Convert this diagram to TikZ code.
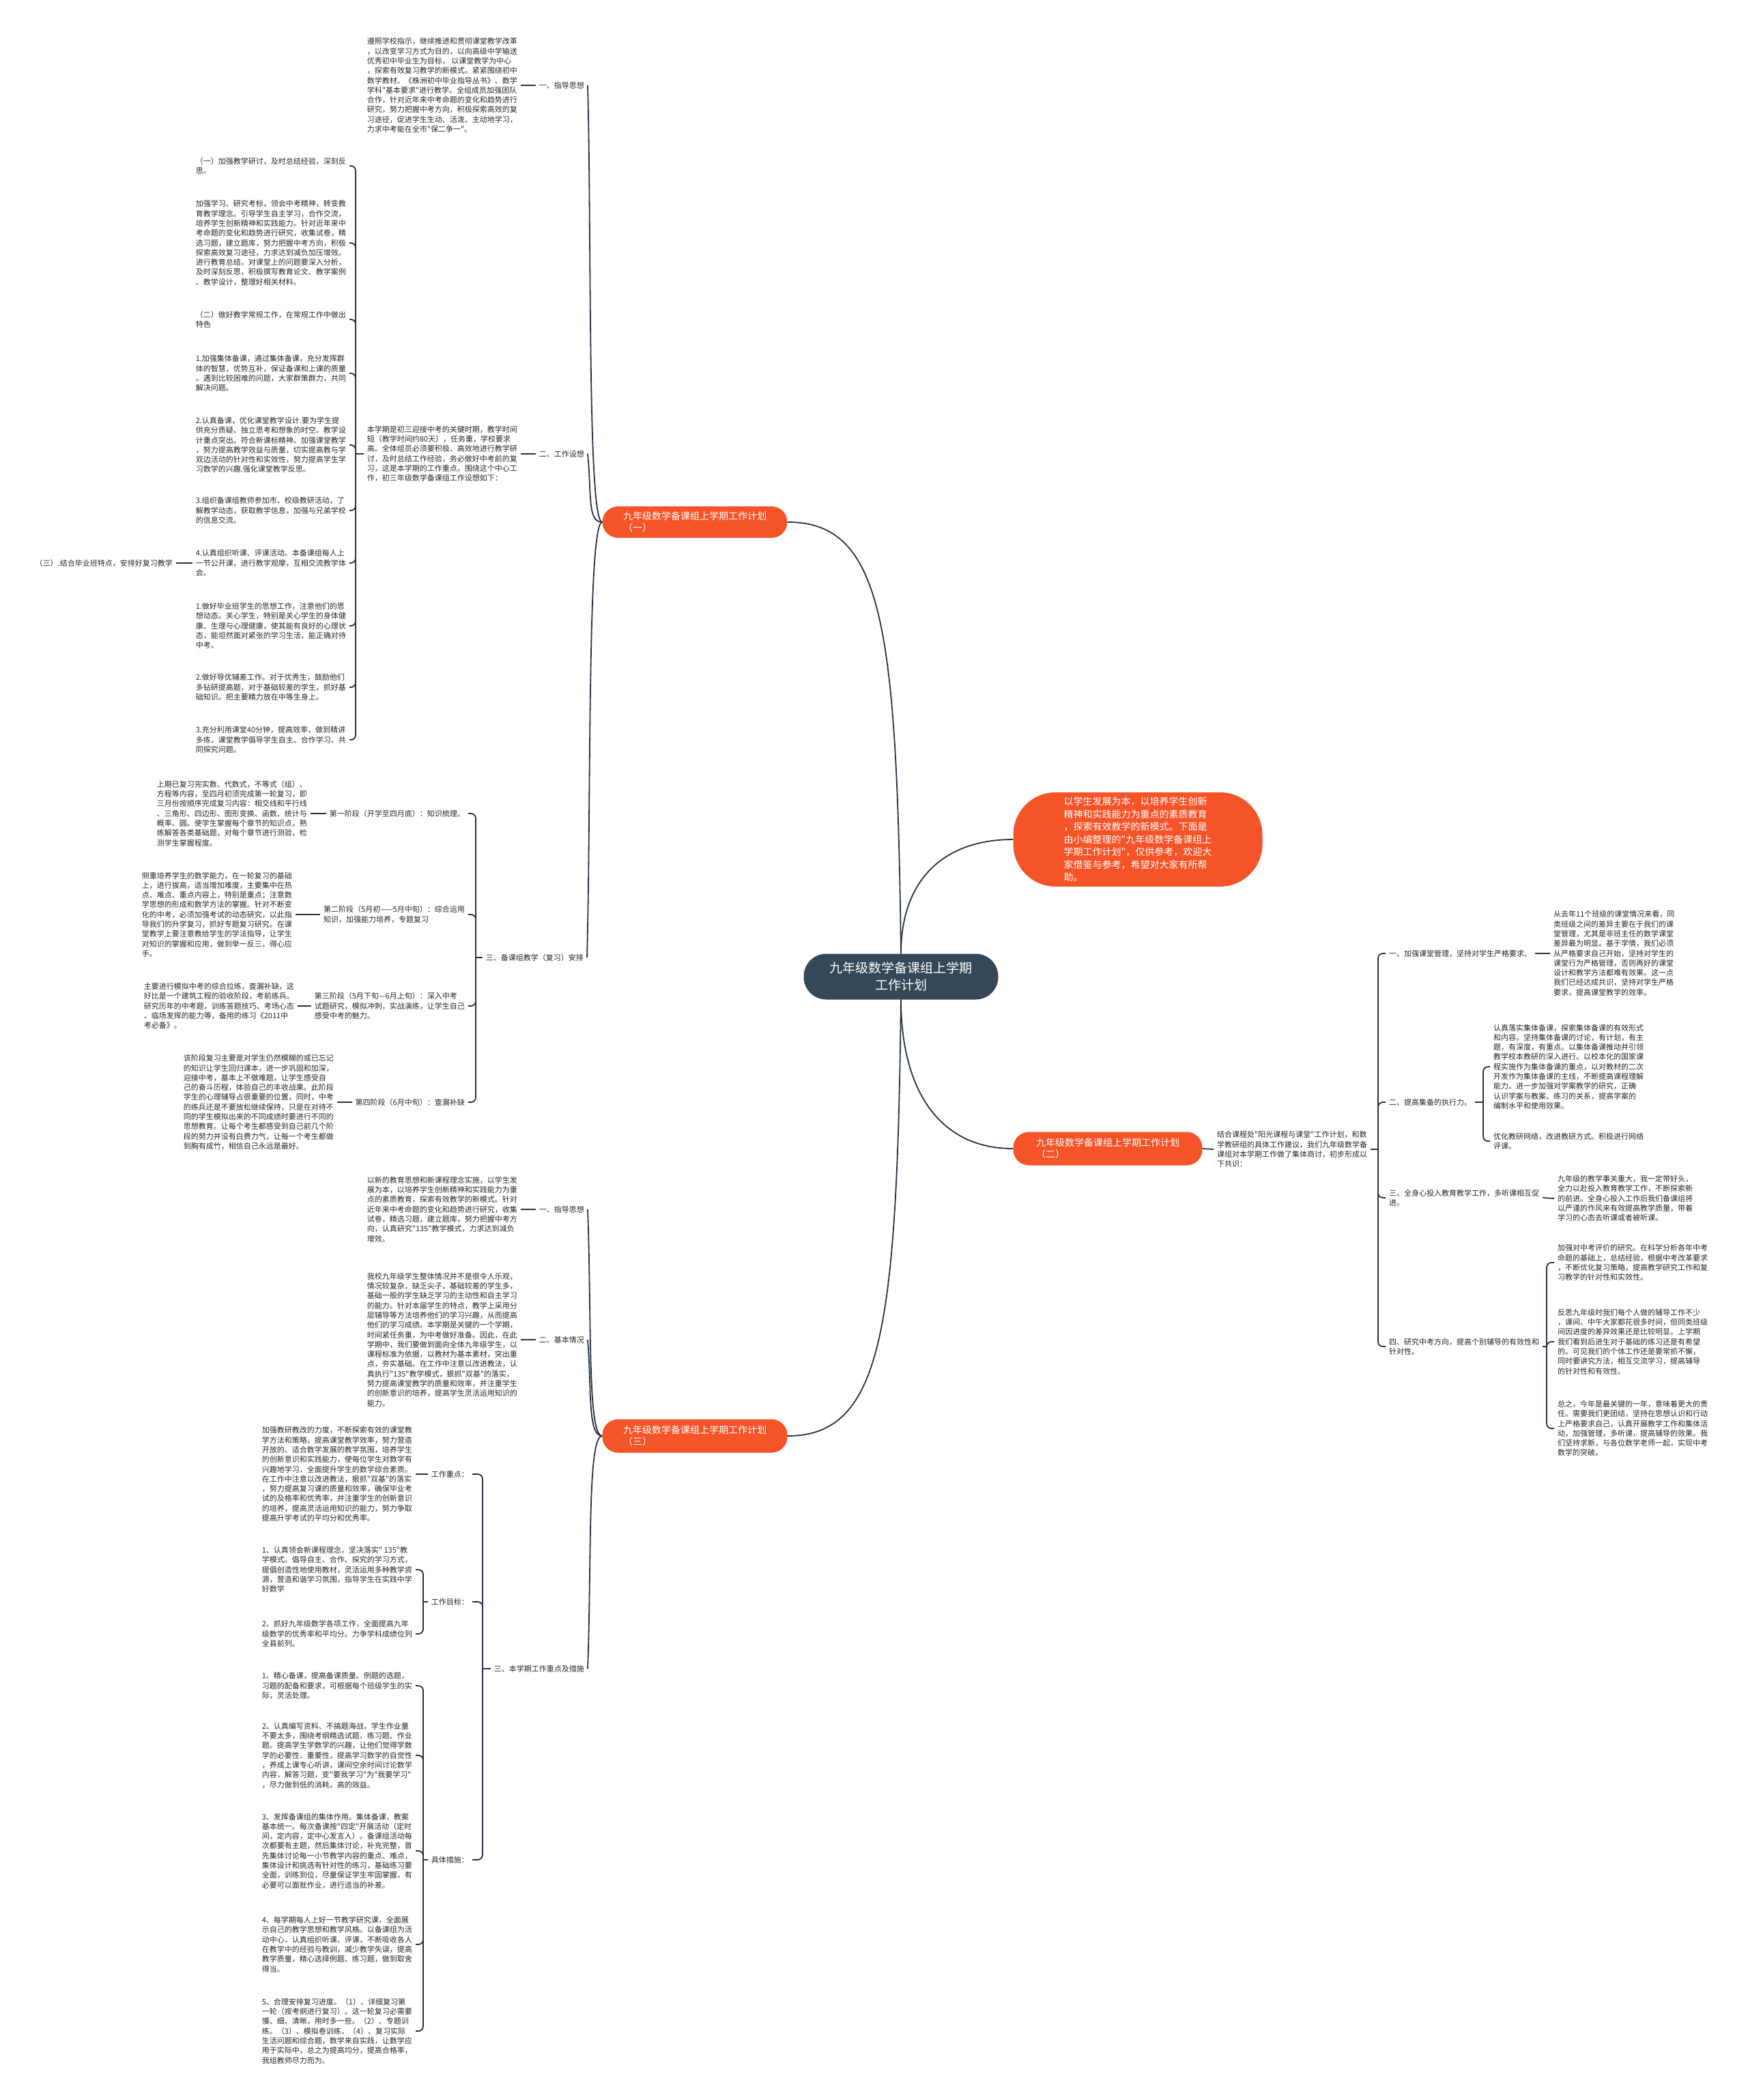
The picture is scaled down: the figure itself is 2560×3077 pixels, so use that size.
\documentclass[tikz,border=0pt]{standalone}
\usepackage{fontspec}
\newfontfamily\cjkfont{Noto Sans CJK SC}
\definecolor{linkc}{RGB}{38,50,66}
\definecolor{rootc}{RGB}{52,72,90}
\definecolor{redc}{RGB}{245,83,40}
\definecolor{textc}{RGB}{40,40,40}
\tikzset{
  link/.style={draw=linkc, line width=1.8pt},
  brace/.style={link, rounded corners=7pt},
  txt/.style={font=\cjkfont\fontsize{11}{14.3}\selectfont, text=textc, align=left, inner xsep=5pt, inner ysep=0pt},
  roottopic/.style={fill=rootc, text=white, rounded corners=33pt, minimum width=285pt, minimum height=67pt, align=center, font=\cjkfont\fontsize{19}{25}\selectfont},
  maintopic/.style={fill=redc, text=white, rounded corners=23pt, minimum width=271pt, minimum height=46pt, align=left, font=\cjkfont\fontsize{14}{17}\selectfont},
}
\begin{document}
\begin{tikzpicture}[x=1pt, y=-1pt]
\fill[white] (0,0) rectangle (2560,3077);
\useasboundingbox (0,0) rectangle (2560,3077);

% centre and main topics
\node[roottopic] (root) at (1320,1431) {九年级数学备课组上学期\\工作计划};
\node[maintopic] (b1) at (1018,765) {九年级数学备课组上学期工作计划\\（一）};
\node[maintopic, minimum width=365pt, minimum height=138pt, rounded corners=62pt, font=\cjkfont\fontsize{14}{18.5}\selectfont] (b0) at (1667,1230)
  {以学生发展为本，以培养学生创新\\精神和实践能力为重点的素质教育\\，探索有效教学的新模式。下面是\\由小编整理的"九年级数学备课组上\\学期工作计划"，仅供参考，欢迎大\\家借鉴与参考，希望对大家有所帮\\助。};
\node[maintopic, minimum width=277pt, minimum height=49pt] (b2) at (1623,1683) {九年级数学备课组上学期工作计划\\（二）};
\node[maintopic, minimum height=49pt] (b3) at (1018,2104) {九年级数学备课组上学期工作计划\\（三）};

\draw[link] (root.north) .. controls +(-6,-480) and +(140,0) .. (b1.east);
\draw[link] (root.north) .. controls +(0,-110) and +(-100,0) .. (b0.west);
\draw[link] (root.south) .. controls +(0,130) and +(-110,0) .. (b2.west);
\draw[link] (root.south) .. controls +(-6,480) and +(140,0) .. (b3.east);

% (一)
\node[txt, anchor=east] (a1) at (861,125) {一、指导思想};
\node[txt, anchor=east] (a1p) at (763,125) {遵照学校指示，继续推进和贯彻课堂教学改革\\，以改变学习方式为目的，以向高级中学输送\\优秀初中毕业生为目标， 以课堂教学为中心\\，探索有效复习教学的新模式。紧紧围绕初中\\数学教材、《株洲初中毕业指导丛书》、数学\\学科"基本要求"进行教学。全组成员加强团队\\合作，针对近年来中考命题的变化和趋势进行\\研究，努力把握中考方向，积极探索高效的复\\习途径，促进学生生动、活泼、主动地学习，\\力求中考能在全市"保二争一"。};
\node[txt, anchor=east] (a2) at (861,665) {二、工作设想};
\node[txt, anchor=east] (a2p) at (763,665) {本学期是初三迎接中考的关键时期，教学时间\\短（教学时间约80天），任务重，学校要求\\高。全体组员必须要积极、高效地进行教学研\\讨，及时总结工作经验，务必做好中考前的复\\习，这是本学期的工作重点。围绕这个中心工\\作，初三年级数学备课组工作设想如下：};
\node[txt, anchor=east] (c1) at (512,243) {（一）加强教学研讨，及时总结经验，深刻反\\思。};
\node[txt, anchor=east] (c2) at (512,356) {加强学习、研究考标，领会中考精神，转变教\\育教学理念。引导学生自主学习，合作交流，\\培养学生创新精神和实践能力。针对近年来中\\考命题的变化和趋势进行研究，收集试卷，精\\选习题，建立题库，努力把握中考方向，积极\\探索高效复习途径，力求达到减负加压增效。\\进行教育总结，对课堂上的问题要深入分析，\\及时深刻反思，积极撰写教育论文、教学案例\\、教学设计，整理好相关材料。};
\node[txt, anchor=east] (c3) at (512,468) {（二）做好教学常规工作，在常规工作中做出\\特色};
\node[txt, anchor=east] (c4) at (512,547) {1.加强集体备课，通过集体备课，充分发挥群\\体的智慧，优势互补，保证备课和上课的质量\\。遇到比较困难的问题，大家群策群力，共同\\解决问题。};
\node[txt, anchor=east] (c5) at (512,652) {2.认真备课，优化课堂教学设计.要为学生提\\供充分质疑、独立思考和想象的时空。教学设\\计重点突出。符合新课标精神。加强课堂教学\\，努力提高教学效益与质量，切实提高教与学\\双边活动的针对性和实效性，努力提高学生学\\习数学的兴趣.强化课堂教学反思。};
\node[txt, anchor=east] (c6) at (512,748) {3.组织备课组教师参加市、校级教研活动，了\\解教学动态，获取教学信息，加强与兄弟学校\\的信息交流。};
\node[txt, anchor=east] (c7) at (512,825) {4.认真组织听课、评课活动。本备课组每人上\\一节公开课，进行教学观摩，互相交流教学体\\会。};
\node[txt, anchor=east] (c7x) at (258,825) {（三）.结合毕业班特点，安排好复习教学};
\node[txt, anchor=east] (c8) at (512,917) {1.做好毕业班学生的思想工作，注意他们的思\\想动态。关心学生，特别是关心学生的身体健\\康、生理与心理健康，使其能有良好的心理状\\态，能坦然面对紧张的学习生活，能正确对待\\中考。};
\node[txt, anchor=east] (c9) at (512,1007) {2.做好导优辅差工作。对于优秀生，鼓励他们\\多钻研提高题，对于基础较差的学生，抓好基\\础知识。把主要精力放在中等生身上。};
\node[txt, anchor=east] (c10) at (512,1084) {3.充分利用课堂40分钟，提高效率，做到精讲\\多练，课堂教学倡导学生自主、合作学习、共\\同探究问题。};
\node[txt, anchor=east] (a3) at (860,1403) {三、备课组教学（复习）安排};
\node[txt, anchor=east] (s1) at (686,1192) {第一阶段（开学至四月底）：知识梳理。};
\node[txt, anchor=east] (s1p) at (455,1192) {上期已复习完实数、代数式，不等式（组）、\\方程等内容，至四月初须完成第一轮复习，即\\三月份按顺序完成复习内容：相交线和平行线\\、三角形、四边形、图形变换、函数、统计与\\概率、圆。使学生掌握每个章节的知识点，熟\\练解答各类基础题，对每个章节进行测验，检\\测学生掌握程度。};
\node[txt, anchor=east] (s2) at (686,1340) {第二阶段（5月初——5月中旬）：综合运用\\知识，加强能力培养，专题复习};
\node[txt, anchor=east] (s2p) at (433,1340) {侧重培养学生的数学能力，在一轮复习的基础\\上，进行拔高，适当增加难度，主要集中在热\\点、难点、重点内容上，特别是重点；注意数\\学思想的形成和数学方法的掌握。针对不断变\\化的中考，必须加强考试的动态研究，以此指\\导我们的升学复习，抓好专题复习研究。在课\\堂教学上要注意教给学生的学法指导，让学生\\对知识的掌握和应用，做到举一反三，得心应\\手。};
\node[txt, anchor=east] (s3) at (686,1474) {第三阶段（5月下旬—6月上旬）：深入中考\\试题研究，模拟冲刺，实战演练，让学生自己\\感受中考的魅力。};
\node[txt, anchor=east] (s3p) at (436,1474) {主要进行模拟中考的综合拉练，查漏补缺，这\\好比是一个建筑工程的验收阶段，考前练兵。\\研究历年的中考题，训练答题技巧、考场心态\\、临场发挥的能力等，备用的练习《2011中\\考必备》。};
\node[txt, anchor=east] (s4) at (686,1615) {第四阶段（6月中旬）：查漏补缺};
\node[txt, anchor=east] (s4p) at (494,1615) {该阶段复习主要是对学生仍然模糊的或已忘记\\的知识让学生回归课本，进一步巩固和加深，\\迎接中考，基本上不做难题，让学生感受自\\己的奋斗历程，体验自己的丰收战果。此阶段\\学生的心理辅导占很重要的位置，同时，中考\\的练兵还是不要放松继续保持，只是在对待不\\同的学生模拟出来的不同成绩时要进行不同的\\思想教育。让每个考生都感受到自己前几个阶\\段的努力并没有白费力气，让每一个考生都做\\到胸有成竹，相信自己永远是最好。};

\draw[link] (b1.west) .. controls +(-22,0) and +(6,220) .. (a1.east);
\draw[link] (b1.west) .. controls +(-22,0) and +(6,60) .. (a2.east);
\draw[link] (b1.west) .. controls +(-22,0) and +(6,-220) .. (a3.east);
\draw[link] (a1.west) -- (a1p.east);
\draw[link] (a2.west) -- (a2p.east);
\coordinate (sp2) at (521,665);
\draw[link] (a2p.west) -- (sp2);
\foreach \n in {c1,c2,c3,c4,c5,c6,c7,c8,c9,c10}
  \draw[brace] (sp2) |- (\n.east);
\draw[link] (c7.west) -- (c7x.east);
\coordinate (sp3) at (697,1403);
\draw[link] (a3.west) -- (sp3);
\foreach \n in {s1,s2,s3,s4}
  \draw[brace] (sp3) |- (\n.east);
\foreach \n in {s1,s2,s3,s4}
  \draw[link] (\n.west) -- (\n p.east);

% (二)
\node[txt, anchor=west] (b2p) at (1778,1684) {结合课程处"阳光课程与课堂"工作计划，和数\\学教研组的具体工作建议，我们九年级数学备\\课组对本学期工作做了集体商讨，初步形成以\\下共识：};
\node[txt, anchor=west] (r1) at (2030,1397) {一、加强课堂管理，坚持对学生严格要求。};
\node[txt, anchor=west] (r1p) at (2271,1397) {从去年11个班级的课堂情况来看，同\\类班级之间的差异主要在于我们的课\\堂管理，尤其是非班主任的数学课堂\\差异最为明显。基于学情，我们必须\\从严格要求自己开始，坚持对学生的\\课堂行为严格管理，否则再好的课堂\\设计和教学方法都难有效果。这一点\\我们已经达成共识，坚持对学生严格\\要求，提高课堂教学的效率。};
\node[txt, anchor=west] (r2) at (2030,1615) {二、提高集备的执行力。};
\node[txt, anchor=west] (r2a) at (2183,1563) {认真落实集体备课，探索集体备课的有效形式\\和内容。坚持集体备课的讨论，有计划，有主\\题，有深度，有重点。以集体备课推动并引领\\教学校本教研的深入进行。以校本化的国家课\\程实施作为集体备课的重点，以对教材的二次\\开发作为集体备课的主线，不断提高课程理解\\能力。进一步加强对学案教学的研究，正确\\认识学案与教案、练习的关系，提高学案的\\编制水平和使用效果。};
\node[txt, anchor=west] (r2b) at (2183,1672) {优化教研网络，改进教研方式。积极进行网络\\评课。};
\node[txt, anchor=west] (r3) at (2030,1755) {三、全身心投入教育教学工作，多听课相互促\\进。};
\node[txt, anchor=west] (r3p) at (2277,1756) {九年级的教学事关重大，我一定带好头，\\全力以赴投入教育教学工作，不断探索新\\的前进。全身心投入工作后我们备课组将\\以严谨的作风来有效提高教学质量，带着\\学习的心态去听课或者被听课。};
\node[txt, anchor=west] (r4) at (2030,1973) {四、研究中考方向，提高个别辅导的有效性和\\针对性。};
\node[txt, anchor=west] (r4a) at (2277,1850) {加强对中考评价的研究。在科学分析各年中考\\命题的基础上，总结经验，根据中考改革要求\\，不断优化复习策略，提高教学研究工作和复\\习教学的针对性和实效性。};
\node[txt, anchor=west] (r4b) at (2277,1966) {反思九年级时我们每个人做的辅导工作不少\\，课间、中午大家都花很多时间，但同类班级\\间因进度的差异效果还是比较明显。上学期\\我们看到后进生对于基础的练习还是有希望\\的。可见我们的个体工作还是要常抓不懈，\\同时要讲究方法，相互交流学习，提高辅导\\的针对性和有效性。};
\node[txt, anchor=west] (r4c) at (2277,2093) {总之，今年是最关键的一年，意味着更大的责\\任。需要我们更团结，坚持在思想认识和行动\\上严格要求自己，认真开展教学工作和集体活\\动，加强管理，多听课，提高辅导的效果。我\\们坚持求新，与各位数学老师一起，实现中考\\数学的突破。};

\draw[link] (b2.east) -- (b2p.west);
\coordinate (sp7) at (2019,1684);
\draw[link] (b2p.east) -- (sp7);
\foreach \n in {r1,r2,r3,r4}
  \draw[brace] (sp7) |- (\n.west);
\draw[link] (r1.east) -- (r1p.west);
\coordinate (sp8) at (2173,1615);
\draw[link] (r2.east) -- (sp8);
\foreach \n in {r2a,r2b}
  \draw[brace] (sp8) |- (\n.west);
\draw[link] (r3.east) -- (r3p.west);
\coordinate (sp9) at (2266,1973);
\draw[link] (r4.east) -- (sp9);
\foreach \n in {r4a,r4b,r4c}
  \draw[brace] (sp9) |- (\n.west);

% (三)
\node[txt, anchor=east] (t1) at (861,1772) {一、指导思想};
\node[txt, anchor=east] (t1p) at (763,1772) {以新的教育思想和新课程理念实施，以学生发\\展为本，以培养学生创新精神和实践能力为重\\点的素质教育，探索有效教学的新模式。针对\\近年来中考命题的变化和趋势进行研究，收集\\试卷，精选习题，建立题库，努力把握中考方\\向，认真研究"135"教学模式，力求达到减负\\增效。};
\node[txt, anchor=east] (t2) at (861,1963) {二、基本情况};
\node[txt, anchor=east] (t2p) at (763,1963) {我校九年级学生整体情况并不是很令人乐观，\\情况较复杂，缺乏尖子，基础较差的学生多，\\基础一般的学生缺乏学习的主动性和自主学习\\的能力。针对本届学生的特点，教学上采用分\\层辅导等方法培养他们的学习兴趣，从而提高\\他们的学习成绩。本学期是关键的一个学期，\\时间紧任务重，为中考做好准备。因此，在此\\学期中，我们要做到面向全体九年级学生，以\\课程标准为依据，以教材为基本素材，突出重\\点，夯实基础。在工作中注意以改进教法，认\\真执行"135"教学模式，狠抓"双基"的落实，\\努力提高课堂教学的质量和效率，并注重学生\\的创新意识的培养，提高学生灵活运用知识的\\能力。};
\node[txt, anchor=east] (t3) at (861,2445) {三、本学期工作重点及措施};
\node[txt, anchor=east] (u1) at (692,2160) {工作重点：};
\node[txt, anchor=east] (u1p) at (609,2160) {加强教研教改的力度，不断探索有效的课堂教\\学方法和策略，提高课堂教学效率，努力营造\\开放的、适合数学发展的教学氛围，培养学生\\的创新意识和实践能力，使每位学生对数学有\\兴趣地学习，全面提升学生的数学综合素质。\\在工作中注意以改进教法，狠抓"双基"的落实\\，努力提高复习课的质量和效率，确保毕业考\\试的及格率和优秀率，并注重学生的创新意识\\的培养，提高灵活运用知识的能力，努力争取\\提高升学考试的平均分和优秀率。};
\node[txt, anchor=east] (u2) at (692,2347) {工作目标：};
\node[txt, anchor=east] (v1) at (609,2300) {1、认真领会新课程理念，坚决落实" 135"教\\学模式。倡导自主、合作、探究的学习方式，\\提倡创造性地使用教材，灵活运用多种教学资\\源，营造和谐学习氛围，指导学生在实践中学\\好数学};
\node[txt, anchor=east] (v2) at (609,2394) {2、抓好九年级数学各项工作，全面提高九年\\级数学的优秀率和平均分。力争学科成绩位列\\全县前列。};
\node[txt, anchor=east] (u3) at (692,2725) {具体措施：};
\node[txt, anchor=east] (w1) at (609,2470) {1、精心备课，提高备课质量。例题的选题，\\习题的配备和要求，可根据每个班级学生的实\\际，灵活处理。};
\node[txt, anchor=east] (w2) at (609,2572) {2、认真编写资料、不搞题海战，学生作业量\\不要太多，围绕考纲精选试题、练习题、作业\\题。提高学生学数学的兴趣，让他们觉得学数\\学的必要性、重要性，提高学习数学的自觉性\\，养成上课专心听讲，课间空余时间讨论数学\\内容，解答习题，变"要我学习"为"我要学习"\\，尽力做到低的消耗，高的效益。};
\node[txt, anchor=east] (w3) at (609,2712) {3、发挥备课组的集体作用。集体备课，教案\\基本统一。每次备课按"四定"开展活动（定时\\间，定内容，定中心发言人）。备课组活动每\\次都要有主题，然后集体讨论，补充完整，首\\先集体讨论每一小节教学内容的重点、难点，\\集体设计和挑选有针对性的练习，基础练习要\\全面，训练到位，尽量保证学生牢固掌握，有\\必要可以面批作业，进行适当的补差。};
\node[txt, anchor=east] (w4) at (609,2849) {4、每学期每人上好一节教学研究课，全面展\\示自己的教学思想和教学风格。以备课组为活\\动中心，认真组织听课、评课，不断吸收各人\\在教学中的经验与教训，减少教学失误，提高\\教学质量，精心选择例题、练习题，做到取舍\\得当。};
\node[txt, anchor=east] (w5) at (609,2976) {5、合理安排复习进度。（1）、详细复习第\\一轮（按考纲进行复习）。这一轮复习必需要\\慢、细、清晰，用时多一些。（2）、专题训\\练。（3）、模拟卷训练，（4）、复习实际\\生活问题和综合题，数学来自实践，让数学应\\用于实际中，总之为提高均分，提高合格率，\\我组教师尽力而为。};

\draw[link] (b3.west) .. controls +(-22,0) and +(6,160) .. (t1.east);
\draw[link] (b3.west) .. controls +(-22,0) and +(6,70) .. (t2.east);
\draw[link] (b3.west) .. controls +(-22,0) and +(6,-160) .. (t3.east);
\draw[link] (t1.west) -- (t1p.east);
\draw[link] (t2.west) -- (t2p.east);
\coordinate (sp4) at (707,2445);
\draw[link] (t3.west) -- (sp4);
\foreach \n in {u1,u2,u3}
  \draw[brace] (sp4) |- (\n.east);
\draw[link] (u1.west) -- (u1p.east);
\coordinate (sp5) at (620,2347);
\draw[link] (u2.west) -- (sp5);
\foreach \n in {v1,v2}
  \draw[brace] (sp5) |- (\n.east);
\coordinate (sp6) at (620,2725);
\draw[link] (u3.west) -- (sp6);
\foreach \n in {w1,w2,w3,w4,w5}
  \draw[brace] (sp6) |- (\n.east);
\end{tikzpicture}
\end{document}
